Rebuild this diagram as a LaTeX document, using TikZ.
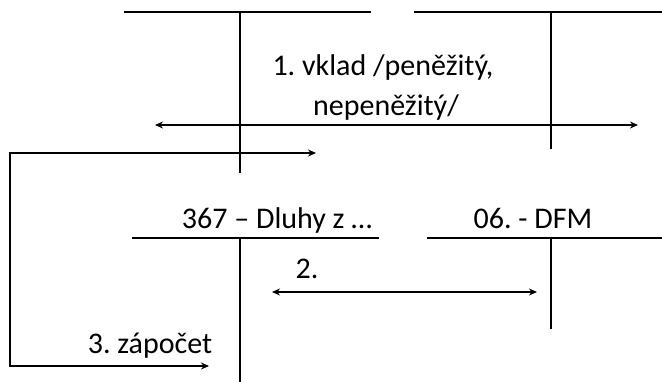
\documentclass[tikz,border=0pt]{standalone}
\usepackage{fontspec}
\setmainfont{Carlito}
\usetikzlibrary{arrows.meta}
\begin{document}
\begin{tikzpicture}[x=1pt,y=-1pt,
  acct/.style={line width=1.4pt, line cap=rect},
  conn/.style={line width=1.4pt, {Stealth[length=8pt,width=7pt]}-{Stealth[length=8pt,width=7pt]}},
  lbl/.style={font=\fontsize{30}{36}\selectfont\frenchspacing, inner sep=0pt, anchor=base}]
\useasboundingbox (0,0) rectangle (662,381);
% account 1 (top left)
\coordinate (a1l) at (125,12); \coordinate (a1r) at (370,12);
\coordinate (a1t) at (240,12); \coordinate (a1b) at (240,172);
\draw[acct] (a1l) -- (a1r); \draw[acct] (a1t) -- (a1b);
% account 2 (top right)
\coordinate (a2l) at (415,12); \coordinate (a2r) at (662,12);
\coordinate (a2t) at (551,12); \coordinate (a2b) at (551,148);
\draw[acct] (a2l) -- (a2r); \draw[acct] (a2t) -- (a2b);
% account 3 (bottom left)
\coordinate (a3l) at (133,238); \coordinate (a3r) at (378,238);
\coordinate (a3t) at (240,238); \coordinate (a3b) at (240,381);
\draw[acct] (a3l) -- (a3r); \draw[acct] (a3t) -- (a3b);
% account 4 (bottom right)
\coordinate (a4l) at (428,238); \coordinate (a4r) at (662,238);
\coordinate (a4t) at (551,238); \coordinate (a4b) at (551,328);
\draw[acct] (a4l) -- (a4r); \draw[acct] (a4t) -- (a4b);
% labels
\node[lbl] (t1a) at (383,75) {1. vklad /peněžitý,};
\node[lbl] (t1b) at (386,115) {nepeněžitý/};
\node[lbl] (t3) at (277,228) {367 – Dluhy z …};
\node[lbl] (t4) at (533,228) {06. - DFM};
\node[lbl] (t2) at (307,278) {2.};
\node[lbl] (t5) at (150,353) {3. zápočet};
% connectors
\coordinate (e1l) at (155,125); \coordinate (e1r) at (638,125);
\draw[conn] (e1l) -- (e1r);
\coordinate (e2l) at (272,292); \coordinate (e2r) at (537,292);
\draw[conn] (e2l) -- (e2r);
\coordinate (e3s) at (316,153); \coordinate (e3c1) at (10,153);
\coordinate (e3c2) at (10,366); \coordinate (e3e) at (209,366);
\draw[conn] (e3s) -- (e3c1) -- (e3c2) -- (e3e);
\end{tikzpicture}
\end{document}
